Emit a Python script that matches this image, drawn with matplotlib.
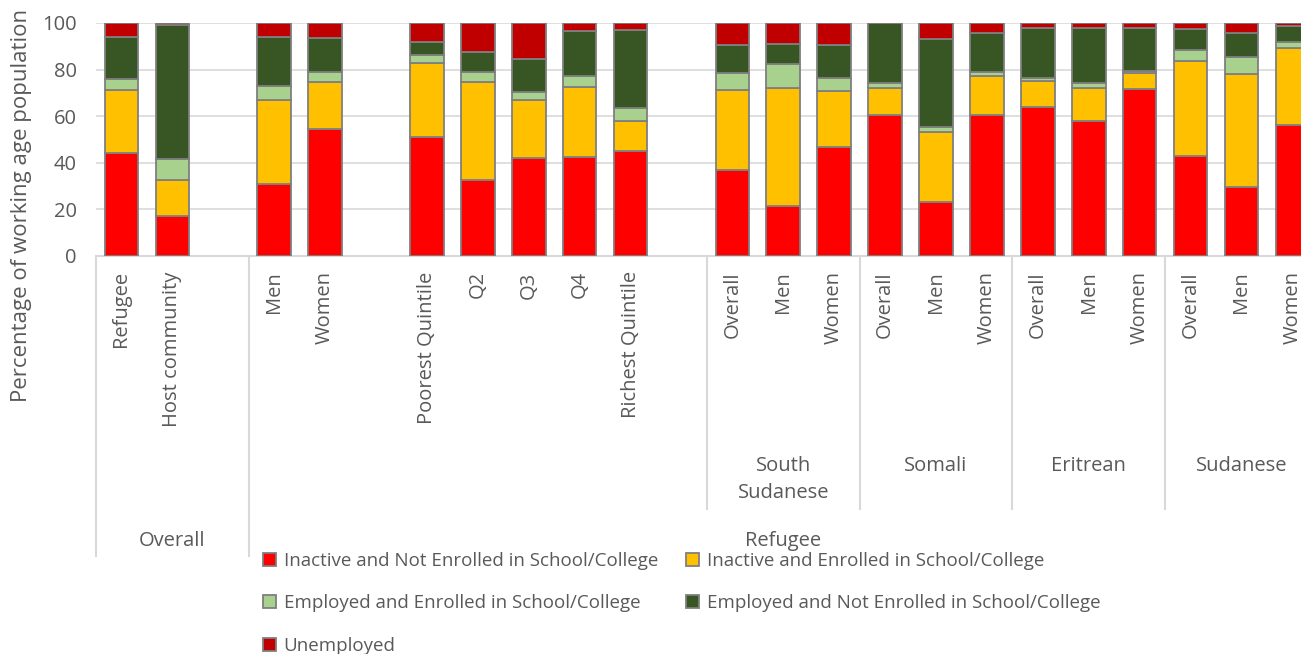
import matplotlib
matplotlib.use("Agg")
import matplotlib.pyplot as plt
import matplotlib.transforms as mtransforms
from matplotlib.lines import Line2D
from matplotlib.patches import Patch

plt.rcParams['font.family'] = ['Open Sans', 'DejaVu Sans']

# ---- data ----
positions = [0, 1, 3, 4, 6, 7, 8, 9, 10, 12, 13, 14, 15, 16, 17, 18, 19, 20, 21, 22, 23]
tick_labels = ["Refugee", "Host community", "Men", "Women", "Poorest Quintile", "Q2", "Q3", "Q4",
               "Richest Quintile", "Overall", "Men", "Women", "Overall", "Men", "Women",
               "Overall", "Men", "Women", "Overall", "Men", "Women"]
series_names = ["Inactive and Not Enrolled in School/College",
                "Inactive and Enrolled in School/College",
                "Employed and Enrolled in School/College",
                "Employed and Not Enrolled in School/College",
                "Unemployed"]
inactive_not_enrolled = [44.1, 17.2, 30.9, 54.5, 50.9, 32.5, 42.2, 42.5, 45.1,
                         36.9, 21.4, 46.6, 60.5, 23.3, 60.5, 63.8, 58.0, 71.6, 43.0, 29.7, 56.3]
inactive_enrolled = [27.0, 15.6, 35.9, 20.2, 31.8, 42.2, 24.6, 30.0, 13.0,
                     34.4, 50.6, 24.2, 11.8, 30.1, 16.7, 11.1, 14.1, 6.8, 40.6, 48.2, 33.1]
employed_enrolled = [4.8, 8.7, 6.0, 4.3, 3.6, 4.3, 3.6, 4.7, 5.5,
                     7.4, 10.3, 5.6, 2.0, 2.1, 1.7, 1.4, 2.0, 0.9, 5.0, 7.7, 2.3]
employed_not_enrolled = [17.9, 57.5, 21.0, 14.4, 5.6, 8.4, 14.1, 19.5, 33.2,
                         12.0, 8.8, 14.0, 25.7, 37.5, 16.6, 21.7, 23.9, 18.7, 8.7, 10.2, 6.9]
unemployed = [6.2, 1.0, 6.2, 6.6, 8.1, 12.6, 15.5, 3.3, 3.2,
              9.3, 8.9, 9.6, 0.0, 7.0, 4.5, 2.0, 2.0, 2.0, 2.7, 4.2, 1.4]
series_values = [inactive_not_enrolled, inactive_enrolled, employed_enrolled,
                 employed_not_enrolled, unemployed]
colors = ["#FF0000", "#FFC000", "#A9D18E", "#375623", "#C00000"]

level2_labels = ["South\nSudanese", "Somali", "Eritrean", "Sudanese"]
level2_centers = [13, 16, 19, 22]
level2_bounds = [11.5, 14.5, 17.5, 20.5]
level1_labels = ["Overall", "Refugee"]
level1_centers = [1, 13]
level1_bounds = [-0.5, 2.5]

W, H = 1301, 654
fig = plt.figure(figsize=(W / 100, H / 100), dpi=100)
ax = fig.add_axes([96 / W, (H - 256) / H, 1 - 96 / W, 233 / H])

edge = "#7F7F7F"
bottoms = [0.0] * len(positions)
for vals, col, name in zip(series_values, colors, series_names):
    ax.bar(positions, vals, bottom=bottoms, width=0.66, color=col,
           edgecolor=edge, linewidth=1.3, label=name, zorder=3)
    bottoms = [b + v for b, v in zip(bottoms, vals)]

ax.set_ylim(0, 100)
ax.set_xlim(-0.5, 23.17)
ax.set_yticks(range(0, 101, 20))
ax.yaxis.grid(True, color="#D9D9D9", linewidth=1.2, zorder=0)
ax.set_axisbelow(True)
for s in ["left", "right", "top"]:
    ax.spines[s].set_visible(False)
ax.spines["bottom"].set_color("#D9D9D9")
ax.spines["bottom"].set_linewidth(1.5)
ax.tick_params(axis="y", length=0, labelsize=14.5, labelcolor="#595959", pad=14)
ax.set_xticks(positions)
ax.set_xticklabels(tick_labels, rotation=90, va="top", ha="center")
ax.tick_params(axis="x", length=0, labelsize=14.5, labelcolor="#595959", pad=11)

trans = mtransforms.blended_transform_factory(ax.transData, fig.transFigure)
y_axis = (H - 256) / H
y_l2 = (H - 509) / H
y_l1 = (H - 556) / H
for b in level2_bounds:
    fig.add_artist(Line2D([b, b], [y_axis, y_l2], transform=trans, color="#D9D9D9", linewidth=1.5))
for b in level1_bounds:
    fig.add_artist(Line2D([b, b], [y_axis, y_l1], transform=trans, color="#D9D9D9", linewidth=1.5))

for lab, c in zip(level2_labels, level2_centers):
    fig.text(c, (H - 456) / H, lab, transform=trans, ha="center", va="top",
             fontsize=14.5, color="#595959", linespacing=1.5)
for lab, c in zip(level1_labels, level1_centers):
    fig.text(c, (H - 541) / H, lab, transform=trans, ha="center", va="center",
             fontsize=14.5, color="#595959")

fig.text(22 / W, (H - 205) / H, "Percentage of working age population", rotation=90,
         ha="center", va="center", fontsize=16, color="#595959")

handles = [Patch(facecolor=c, edgecolor=edge, linewidth=1.3) for c in colors]
order = [0, 2, 4, 1, 3]
fig.legend([handles[i] for i in order], [series_names[i] for i in order], ncol=2,
           loc="upper left", bbox_to_anchor=(263 / W, (H - 552) / H), frameon=False,
           fontsize=13.5, labelcolor="#595959", handlelength=0.7, handleheight=0.7,
           handletextpad=0.4, labelspacing=1.3, columnspacing=1.5, borderaxespad=0,
           borderpad=0)

fig.savefig("out.png", dpi=100)
